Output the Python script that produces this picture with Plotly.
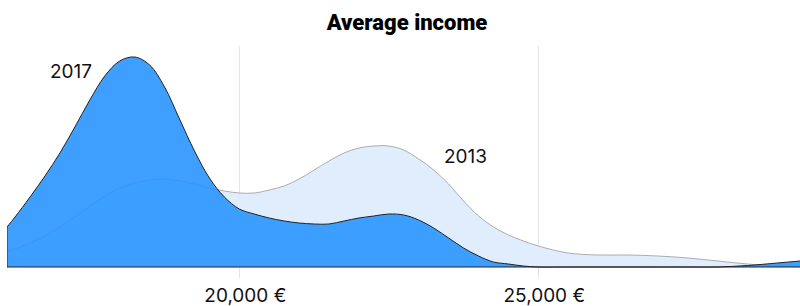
import plotly.graph_objects as go

# Income grid (EUR) and density heights (relative units)
income = [16115, 16250, 16500, 16750, 17000, 17250, 17500, 17750, 18000, 18250,
          18500, 18750, 19000, 19250, 19500, 19750, 20000, 20250, 20500, 20750,
          21000, 21250, 21500, 21750, 22000, 22250, 22500, 22750, 23000, 23250,
          23500, 23750, 24000, 24250, 24500, 24750, 25000, 25500, 26000, 26500,
          27000, 27500, 28000, 28500, 29000, 29376]
density_2017 = [40, 50, 70, 91, 114, 140, 167, 191, 206, 210,
                202, 180, 148, 116, 89, 70, 58, 53, 49, 46,
                44, 43, 43, 46, 49, 51, 53, 52, 47, 39,
                29, 19, 11, 5, 3, 1, 0, 0, 0, 0,
                0, 0, 0, 1.5, 4, 6]
density_2013 = [15, 18, 24, 31, 40, 50, 61, 71, 79, 84,
                87, 88, 86, 83, 79, 76, 74, 74, 77, 81,
                88, 97, 106, 114, 119, 121, 121, 117, 108, 97,
                83, 66, 51, 40, 32, 26, 21, 14, 12, 12,
                11, 9, 6, 3, 1, 0.3]

tick_values = [20000, 25000]
tick_labels = ["20,000 €", "25,000 €"]
series_labels = ["2017", "2013"]
label_pos_income = [17186, 23776]
label_pos_height = [196, 111]

fig = go.Figure()

fig.add_trace(go.Scatter(
    x=income, y=density_2013, mode="lines", fill="tozeroy",
    fillcolor="#e0edfd", line=dict(color="#adadad", width=1, shape="spline", smoothing=1),
    hoverinfo="skip", showlegend=False))

fig.add_trace(go.Scatter(
    x=income, y=density_2017, mode="lines", fill="tozeroy",
    fillcolor="rgba(42,149,255,0.9)",
    line=dict(color="#222222", width=1, shape="spline", smoothing=1),
    hoverinfo="skip", showlegend=False))

# Outline of the 2017 area: left edge and baseline
fig.add_trace(go.Scatter(
    x=[income[0], income[0], income[-1]], y=[density_2017[0], 0, 0],
    mode="lines", line=dict(color="#222222", width=1),
    hoverinfo="skip", showlegend=False))

for lab, xi, yi in zip(series_labels, label_pos_income, label_pos_height):
    fig.add_annotation(x=xi, y=yi, text=lab, showarrow=False,
                       font=dict(family="Inter, sans-serif", size=19, color="#111111"))

fig.update_layout(
    width=800, height=306,
    margin=dict(l=7, r=0, t=46, b=28),
    paper_bgcolor="white", plot_bgcolor="white",
    title=dict(text="Average income", x=407/800, xref="container", xanchor="center",
               y=1 - 22/306, yref="container", yanchor="middle",
               font=dict(family="Roboto, sans-serif", size=22, weight=900, color="#000000")),
    xaxis=dict(range=[income[0], income[-1]], tickvals=tick_values, ticktext=tick_labels,
               showgrid=True, gridcolor="#e4e4e4", gridwidth=1, zeroline=False,
               showline=False, ticks="", ticklabelstandoff=4, ticklabelshift=6,
               tickfont=dict(family="Inter, sans-serif", size=19, color="#111111")),
    yaxis=dict(range=[-11, 221], visible=False, showgrid=False, zeroline=False),
)

fig.write_html("out.html", config={"displayModeBar": False},
               post_script="document.body.style.margin='0';document.body.style.overflow='hidden';")
